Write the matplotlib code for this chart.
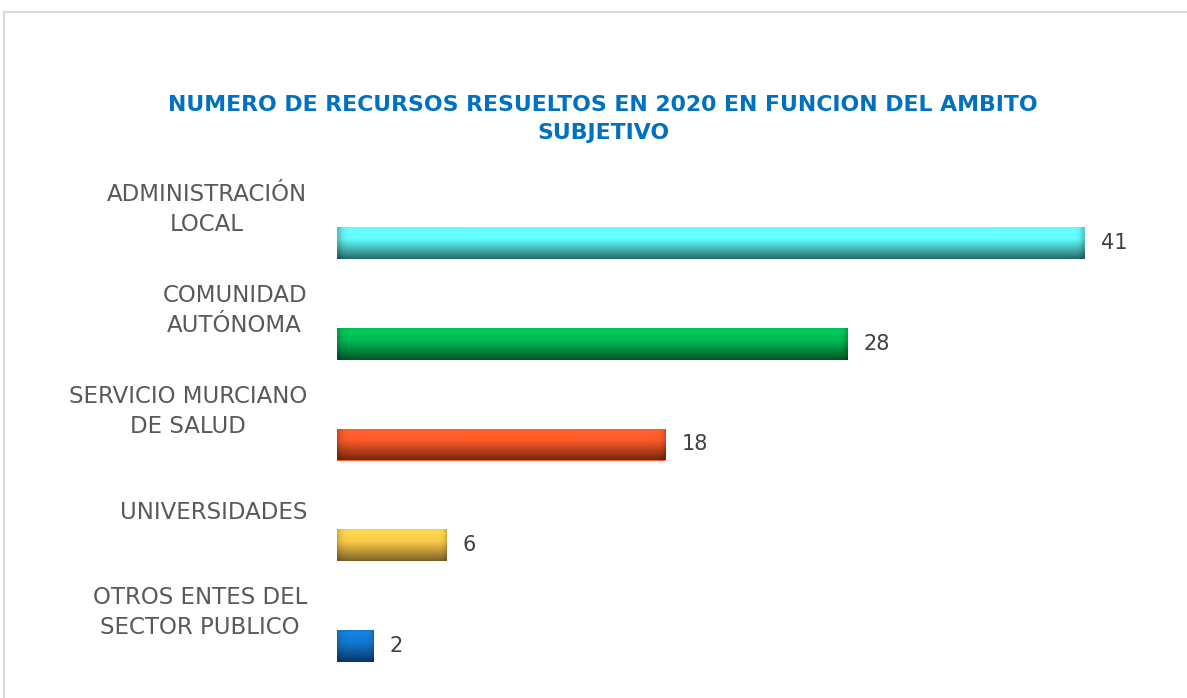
import numpy as np
import matplotlib
matplotlib.use("Agg")
import matplotlib.pyplot as plt
from matplotlib.transforms import blended_transform_factory
from matplotlib.patches import Rectangle

categories = ["ADMINISTRACIÓN\nLOCAL", "COMUNIDAD\nAUTÓNOMA", "SERVICIO MURCIANO\nDE SALUD",
              "UNIVERSIDADES", "OTROS ENTES DEL\nSECTOR PUBLICO"]
values = [41, 28, 18, 6, 2]
top_colors = [(100, 255, 255), (0, 190, 85), (255, 92, 40), (255, 205, 75), (20, 122, 212)]
bottom_colors = [(38, 105, 105), (0, 85, 38), (115, 38, 14), (125, 98, 38), (8, 55, 105)]
title = "NUMERO DE RECURSOS RESUELTOS EN 2020 EN FUNCION DEL AMBITO\nSUBJETIVO"

W, H = 1187, 698
fig = plt.figure(figsize=(W / 100, H / 100), dpi=100)
fig.patch.set_facecolor("white")

# outer chart border (extends past right/bottom)
fig.patches.append(Rectangle((4 / W, -0.1), 1.2, 1.1 - 12 / H, transform=fig.transFigure,
                             fill=False, edgecolor="#D9D9D9", linewidth=1.5))

row_px = 100.75
first_px = 243
ax_top = first_px - 0.5 * row_px
ax = fig.add_axes([337 / W, 0, 1 - 337 / W, 1 - ax_top / H])
x_right = 41 * (W - 337) / (1085 - 337)
n_units = (H - ax_top) / row_px

y = np.arange(len(values))
bar_h = 32 / row_px
bars = ax.barh(y, values, height=bar_h, color=[np.array(c) / 255 for c in top_colors], edgecolor="none")

ax.set_xlim(0, x_right)
ax.set_ylim(-0.5 + n_units, -0.5)

# cylinder-like shading clipped to each bar
for b, ct, cb in zip(bars, top_colors, bottom_colors):
    x0, y0, w, h = b.get_x(), b.get_y(), b.get_width(), b.get_height()
    nr, nc = 64, 200
    t = np.linspace(0, 1, nr)[:, None]
    mix = np.clip((t - 0.35) / 0.65, 0, 1) ** 1.1
    ct_a = np.array(ct) / 255
    cb_a = np.array(cb) / 255
    img = ct_a[None, None, :] * (1 - mix[..., None]) + cb_a[None, None, :] * mix[..., None]
    img = np.repeat(img, nc, axis=1)
    hl = 1 + 0.08 * np.exp(-((t - 0.12) / 0.08) ** 2)
    img = np.clip(img * hl[..., None], 0, 1)
    bar_px = max(w / x_right * (W - 337), 1)
    xs = np.linspace(0, bar_px, nc)
    left = 1 - 0.22 * np.exp(-xs / 3.5)
    right = 1 - 0.2 * np.exp(-(bar_px - xs) / 2.5)
    img = np.clip(img * (left * right)[None, :, None], 0, 1)
    im = ax.imshow(img, extent=(x0, x0 + w, y0 + h, y0), aspect="auto",
                   interpolation="bilinear", zorder=3)
    im.set_clip_path(b)

ax.set_xlim(0, x_right)
ax.set_ylim(-0.5 + n_units, -0.5)
ax.axis("off")

fam = ["DejaVu Sans"]
for b, v in zip(bars, values):
    ax.annotate(str(v), (b.get_width(), b.get_y() + b.get_height() / 2),
                xytext=(16, 0), textcoords="offset pixels", ha="left", va="center",
                fontsize=15, color="#404040", family=fam)

trans = blended_transform_factory(fig.transFigure, ax.transData)
for i, c in enumerate(categories):
    ax.text(307 / W, i - 0.33, c, transform=trans, ha="right", va="center",
            multialignment="center", fontsize=16.5, color="#595959", family=fam,
            linespacing=1.38)

fig.text(603 / W, 1 - 119 / H, title, ha="center", va="center", fontsize=15.8,
         fontweight="bold", color="#0070C0", family=fam, linespacing=1.5)

fig.savefig("out.png", dpi=100)
